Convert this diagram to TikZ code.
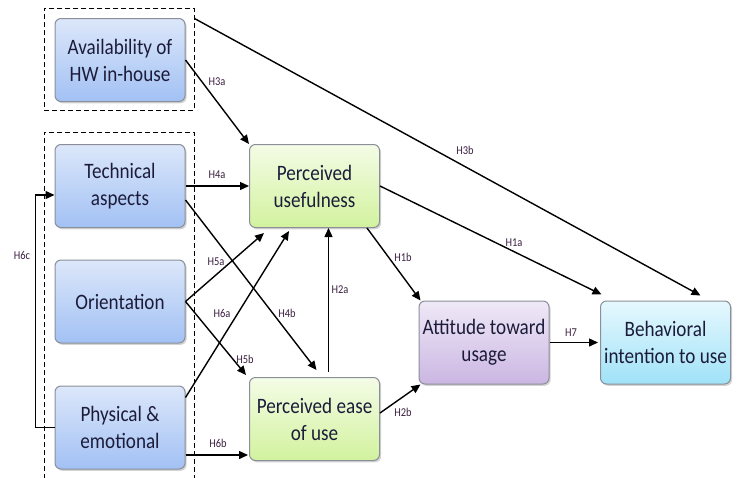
\documentclass[tikz,border=0pt]{standalone}
\usepackage{fontspec}
\setmainfont{Carlito}[FakeStretch=0.87]
\usetikzlibrary{arrows.meta,calc,shadows,fit}
\definecolor{boxtext}{HTML}{1C1C3A}
\definecolor{labtext}{HTML}{3A1F3F}
\definecolor{boxline}{HTML}{8A8F9A}
\definecolor{bluetop}{HTML}{DCE7FA}
\definecolor{bluebot}{HTML}{A2C1F4}
\definecolor{greentop}{HTML}{F4FCE6}
\definecolor{greenbot}{HTML}{D2F29E}
\definecolor{purpletop}{HTML}{EFE9F7}
\definecolor{purplebot}{HTML}{CBB6E2}
\definecolor{cyantop}{HTML}{E6F8FE}
\definecolor{cyanbot}{HTML}{A0E2F8}
\begin{document}
\begin{tikzpicture}[x=0.5pt,y=-0.5pt,
  concept/.style={draw=boxline,line width=0.5pt,rounded corners=3pt,
    minimum width=65pt,minimum height=41.5pt,inner sep=1pt,align=center,
    text=boxtext,font=\fontsize{11}{13.5}\selectfont,
    drop shadow={shadow xshift=0.8pt,shadow yshift=-0.9pt,opacity=0.35}},
  blueconcept/.style={concept,top color=bluetop,bottom color=bluebot},
  greenconcept/.style={concept,top color=greentop,bottom color=greenbot},
  purpleconcept/.style={concept,top color=purpletop,bottom color=purplebot},
  cyanconcept/.style={concept,top color=cyantop,bottom color=cyanbot},
  group/.style={draw,dash pattern=on 2.5pt off 1.5pt,line width=0.5pt,inner sep=0pt},
  hyp/.style={draw,line width=0.7pt,-{Triangle[length=4.5pt,width=4pt]}},
  hlab/.style={text=labtext,font=\fontsize{6}{7}\selectfont,inner sep=0pt}]
 \useasboundingbox (0,0) rectangle (739,477);

 \node[blueconcept] (avail) at (120,60) {Availability of\\HW in-house};
 \node[blueconcept] (tech) at (120,186) {Technical\\aspects};
 \node[blueconcept] (orient) at (120,301.5) {Orientation};
 \node[blueconcept] (phys) at (120,427.5) {Physical \&\\emotional};
 \node[greenconcept] (pu) at (314.5,186) {Perceived\\usefulness};
 \node[greenconcept] (peu) at (314.5,419) {Perceived ease\\of use};
 \node[purpleconcept] (att) at (484,342.5) {Attitude toward\\usage};
 \node[cyanconcept] (bi) at (665.5,342.5) {Behavioral\\intention to use};

 \coordinate (grpAa) at (44,8);
 \coordinate (grpAb) at (194,110);
 \coordinate (grpBa) at (44,132);
 \coordinate (grpBb) at (194,482);
 \node[group,fit=(grpAa)(grpAb)] (grpA) {};
 \node[group,fit=(grpBa)(grpBb)] (grpB) {};

 \draw[hyp] (avail.east) -- (pu.north west);
 \draw[hyp] ($(grpA.north east)+(0,11)$) -- ($(bi.north)+(35,-5)$);
 \draw[hyp] (tech.east) -- (pu.west);
 \draw[hyp] ($(tech.east)+(0,14)$) -- ($(peu.north)+(2,-7)$);
 \draw[hyp] (orient.east) -- ($(pu.south west)+(15,5)$);
 \draw[hyp] (orient.east) -- ($(peu.north west)+(-3,-2)$);
 \draw[hyp] ($(phys.north east)+(0,12)$) -- ($(pu.south west)+(40,3)$);
 \draw[hyp] ($(phys.east)+(0,27.5)$) -- ($(peu.west)+(-1,36)$);
 \draw[hyp] (phys.west) -- ++(-19,0) |- ($(tech.west)+(0,9)$);
 \draw[hyp] ($(peu.north)+(14,-5)$) -- ($(pu.south)+(14,0)$);
 \draw[hyp] ($(pu.south east)+(-13,0)$) -- ($(att.north west)+(2,0)$);
 \draw[hyp] (pu.east) -- ($(att.north east)+(52,-6)$);
 \draw[hyp] ($(peu.east)+(0,-6)$) -- ($(att.south west)+(2,0)$);
 \draw[hyp] (att.east) -- ($(bi.west)+(-2,0)$);

 \node[hlab] (l3a) at (217,82) {H3a};
 \node[hlab] (l3b) at (465,150) {H3b};
 \node[hlab] (l4a) at (217,175) {H4a};
 \node[hlab] (l4b) at (287,313) {H4b};
 \node[hlab] (l5a) at (216,262) {H5a};
 \node[hlab] (l5b) at (245,359) {H5b};
 \node[hlab] (l6a) at (222,313) {H6a};
 \node[hlab] (l6b) at (218,443) {H6b};
 \node[hlab] (l6c) at (22,255) {H6c};
 \node[hlab] (l2a) at (340,290) {H2a};
 \node[hlab] (l1b) at (403,257) {H1b};
 \node[hlab] (l1a) at (514,243) {H1a};
 \node[hlab] (l2b) at (403,412) {H2b};
 \node[hlab] (l7) at (571,333) {H7};
\end{tikzpicture}
\end{document}
